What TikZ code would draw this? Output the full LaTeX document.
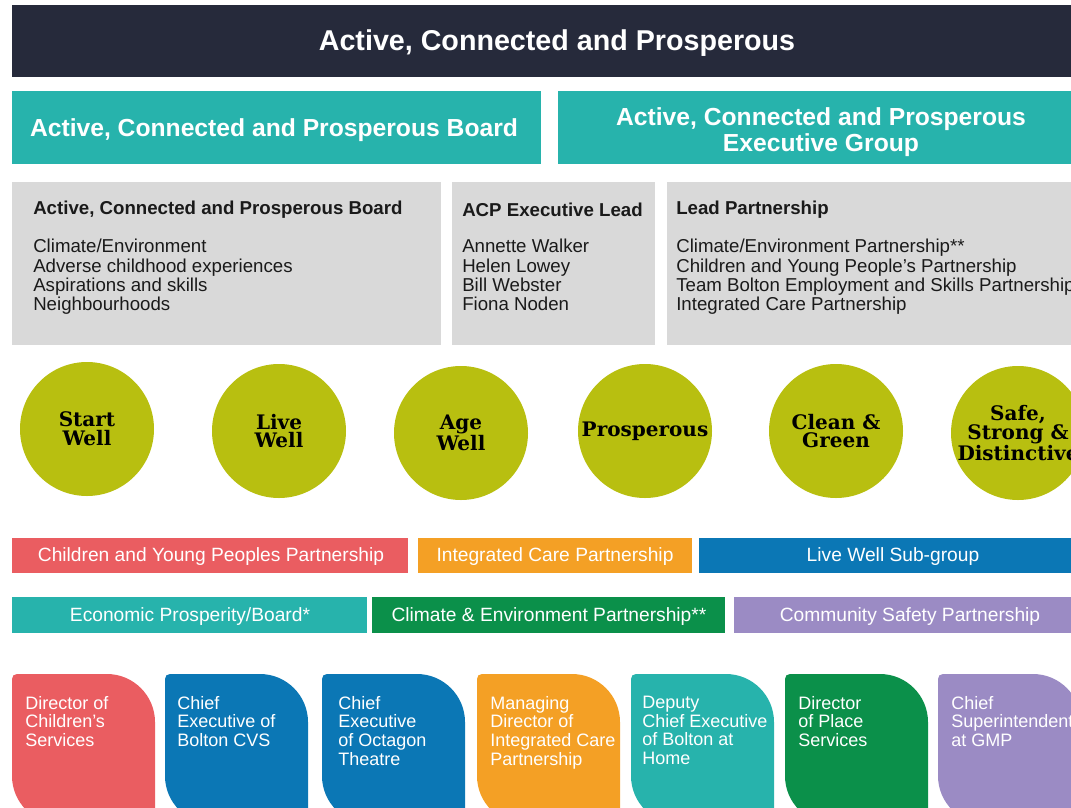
\documentclass[tikz,border=0pt]{standalone}
\usepackage{fontspec}
\setmainfont{Liberation Sans}
\newfontfamily\goalfont{DejaVu Serif}
\usepackage{xcolor}
\definecolor{acpnavy}{HTML}{262A3B}
\definecolor{acpteal}{HTML}{27B3AC}
\definecolor{acpgray}{HTML}{D9D9D9}
\definecolor{acpink}{HTML}{1A1A1A}
\definecolor{acpolive}{HTML}{B8BF10}
\definecolor{acpred}{HTML}{EA5D61}
\definecolor{acporange}{HTML}{F4A025}
\definecolor{acpblue}{HTML}{0B77B5}
\definecolor{acpgreen}{HTML}{0B904A}
\definecolor{acppurple}{HTML}{9B8BC4}
\tikzset{
	headtext/.style={text=white,align=center,inner sep=0,font=\fontsize{18.5}{20}\selectfont\bfseries},
	boxhead/.style={anchor=west,inner sep=0,text=acpink,font=\fontsize{14}{15}\selectfont\bfseries},
	boxbody/.style={anchor=north west,inner sep=0,align=left,text=acpink,font=\fontsize{14}{14.5}\selectfont},
	goal/.style={circle,fill=acpolive,minimum size=100.5pt,inner sep=0,align=center,text=black,font=\goalfont\fontsize{15}{14}\selectfont\bfseries},
	bartext/.style={text=white,inner sep=0,font=\fontsize{14.4}{16}\selectfont},
	leaftext/.style={anchor=north west,inner sep=0,align=left,text=white,font=\fontsize{13.5}{14}\selectfont}
}
% leaf shape: left edge, colour
\newcommand\leaf[2]{
	\fill[#2] (#1,\lt+5) -- (#1,\lt+\lh-\rb)
	.. controls (#1,\lt+\lh-0.45*\rb) and (#1+0.45*\rb,\lt+\lh) .. (#1+\rb,\lt+\lh)
	-- (#1+\lw,\lt+\lh) -- (#1+\lw,\lt+\rb)
	.. controls (#1+\lw,\lt+0.45*\rb) and (#1+\lw-0.45*\rb,\lt) .. (#1+\lw-\rb,\lt)
	-- (#1+5,\lt) .. controls (#1+2,\lt) and (#1,\lt+2) .. (#1,\lt+5) -- cycle;
}

\begin{document}
\begin{tikzpicture}[x=0.75pt,y=-0.75pt]
	
	\def\lt{674}    % top of the leaves
	\def\lw{143}    % leaf width
	\def\lh{150}    % leaf height
	\def\rb{48}     % big corner radius
	\useasboundingbox (0,0) rectangle (1071,807);
	\clip (0,0) rectangle (1071,807);
	
	% TITLE
	\fill[acpnavy] (12,5) rectangle (1095,77);
	\node[headtext,font=\fontsize{21.5}{24}\selectfont\bfseries] (acp) at (557,43) {Active, Connected and Prosperous};
	
	% BOARDS
	\fill[acpteal] (12,91) rectangle (541,164);
	\fill[acpteal] (558,91) rectangle (1095,164);
	\node[headtext] (board) at (274,130) {Active, Connected and Prosperous Board};
	\node[headtext] (execgroup) at (821,132) {Active, Connected and Prosperous\\Executive Group};
	
	% GRAY BOXES
	\fill[acpgray] (12,182) rectangle (441,345);
	\fill[acpgray] (452,182) rectangle (655,345);
	\fill[acpgray] (667,182) rectangle (1095,345);
	\node[boxhead] (themehead) at (33,210) {Active, Connected and Prosperous Board};
	\node[boxbody] (themes) at (33,239) {Climate/Environment\\Adverse childhood experiences\\Aspirations and skills\\Neighbourhoods};
	\node[boxhead] (leadhead) at (462,210) {ACP Executive Lead};
	\node[boxbody] (leads) at (462,239) {Annette Walker\\Helen Lowey\\Bill Webster\\Fiona Noden};
	\node[boxhead] (parthead) at (676,210) {Lead Partnership};
	\node[boxbody] (parts) at (676,239) {Climate/Environment Partnership**\\Children and Young People's Partnership\\Team Bolton Employment and Skills Partnership\\Integrated Care Partnership};
	
	% GOALS
	\node[goal] (startwell) at (87,429) {Start\\Well};
	\node[goal] (livewell) at (279,431) {Live\\Well};
	\node[goal] (agewell) at (461,433) {Age\\Well};
	\node[goal] (prosperous) at (645,431) {Prosperous};
	\node[goal] (cleangreen) at (836,431) {Clean \&\\Green};
	\node[goal] (safe) at (1018,433) {Safe,\\Strong \&\\Distinctive};
	
	% PARTNERSHIPS
	\fill[acpred] (12,538) rectangle (408,573);
	\fill[acporange] (418,538) rectangle (692,573);
	\fill[acpblue] (699,538) rectangle (1095,573);
	\fill[acpteal] (12,597) rectangle (367,633);
	\fill[acpgreen] (372,597) rectangle (725,633);
	\fill[acppurple] (734,597) rectangle (1095,633);
	\node[bartext] (cyp) at (211,557) {Children and Young Peoples Partnership};
	\node[bartext] (icp) at (555,557) {Integrated Care Partnership};
	\node[bartext] (livesub) at (893,557) {Live Well Sub-group};
	\node[bartext] (econ) at (190,617) {Economic Prosperity/Board*};
	\node[bartext] (climate) at (549,617) {Climate \& Environment Partnership**};
	\node[bartext] (safety) at (910,617) {Community Safety Partnership};
	
	% LEADS
	\leaf{12}{acpred}
	\leaf{165}{acpblue}
	\leaf{322}{acpblue}
	\leaf{477}{acporange}
	\leaf{631}{acpteal}
	\leaf{785}{acpgreen}
	\leaf{938}{acppurple}
	\node[leaftext] (dcs) at (25,696) {Director of\\Children's\\Services};
	\node[leaftext] (cvs) at (177,696) {Chief\\Executive of\\Bolton CVS};
	\node[leaftext] (octagon) at (338,696) {Chief\\Executive\\of Octagon\\Theatre};
	\node[leaftext] (mdicp) at (490,696) {Managing\\Director of\\Integrated Care\\Partnership};
	\node[leaftext] (bah) at (642,696) {Deputy\\Chief Executive\\of Bolton at\\Home};
	\node[leaftext] (place) at (798,696) {Director\\of Place\\Services};
	\node[leaftext] (gmp) at (951,696) {Chief\\Superintendent\\at GMP};
	
\end{tikzpicture}
\end{document}
